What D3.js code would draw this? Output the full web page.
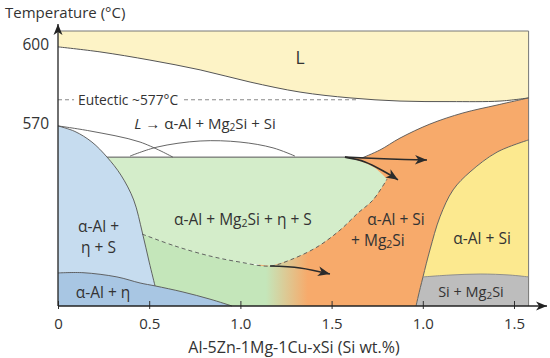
<!DOCTYPE html>
<html><head><meta charset="utf-8">
<script src="https://cdn.jsdelivr.net/npm/d3@7"></script>
<style>
body{margin:0;background:#fff}
svg{display:block}
text{font-family:"Open Sans",sans-serif;fill:#333}
</style>
</head><body>
<svg id="c" width="550" height="358"></svg>
<script>
// ---------- data (composition index u, temperature T in °C) ----------
const xTickValues = [0, 0.5, 1.0, 1.5, 2.0, 2.5];
const xTickLabels = ["0", "0.5", "1.0", "1.5", "1.0", "1.5"];
const yTickValues = [600, 570];
const eutecticT = 580;
const eutecticEnd = 1.64;
const ternaryT = 558.3;
const liquidus = [[0,600.0],[0.230,598.1],[0.504,595.0],[0.779,591.3],[1.053,586.7],[1.327,582.9],[1.601,580.7],[1.875,579.5],[2.149,579.3],[2.423,579.5],[2.58,580.7]];
const solidus = [[0,570.1],[0.175,568.2],[0.450,564.0],[0.630,558.3]];
const arcLine = [[0.395,558.7],[0.543,562.1],[0.779,564.4],[0.998,564.0],[1.179,561.8],[1.299,558.7]];
const blueBoundary = [[0,570.1],[0.093,568.0],[0.186,564.0],[0.269,558.3],[0.345,551.5],[0.415,542.1],[0.463,529.6],[0.500,518.6],[0.532,509.6]];
const darkBlueTop = [[0,514.5],[0.137,514.6],[0.323,513.0],[0.450,510.7],[0.532,509.6],[0.685,507.3],[0.833,504.6],[0.954,502]];
const dashedLeft = [[0.461,529.2],[0.641,524.7],[0.833,520.9],[0.998,518.6],[1.162,517.1]];
const dashedRight = [[1.162,517.1],[1.272,519.4],[1.420,524.3],[1.546,530.7],[1.645,537.2],[1.727,542.1],[1.804,550.0]];
const greenTopCurve = [[1.573,558.3],[1.617,557.6],[1.683,556.1],[1.738,554.2],[1.804,550.0]];
const orangeTop = [[1.667,558.0],[1.765,561.0],[1.875,565.5],[2.039,570.8],[2.220,575.0],[2.407,578.0],[2.58,580.7]];
const yellowBoundary = [[2.58,564.8],[2.407,560.2],[2.259,552.7],[2.166,545.9],[2.094,535.7],[2.039,523.2],[2.001,513.0],[1.974,505.4],[1.963,502]];
const grayTop = [[2.001,513.0],[2.149,513.7],[2.314,514.1],[2.478,513.7],[2.58,513.0]];
const arrow1 = [[1.573,558.3],[1.820,557.6],[2.023,557.2]];
const arrow2 = [[1.573,558.3],[1.683,556.5],[1.793,552.7],[1.864,549.7]];
const arrow3 = [[1.162,517.1],[1.327,516.4],[1.491,514.1]];

// region labels
const labels = [
  {u:1.327, T:596.2, size:17.5, lines:[[{t:"L"}]]},
  {u:0.222, T:528.3, size:15.5, lines:[[{t:"α-Al +"}],[{t:"η + S"}]]},
  {u:0.247, T:507.3, size:15.5, lines:[[{t:"α-Al + η"}]]},
  {u:1.014, T:534.9, size:15.5, lines:[[{t:"α-Al + Mg"},{t:"2",sub:true},{t:"Si + η + S"}]]},
  {u:1.80, T:531.1, size:15.5, lines:[[{t:"α-Al + Si"}],[{t:"+ Mg"},{t:"2",sub:true},{t:"Si"}]], anchors:[1.853,1.754]},
  {u:2.325, T:527.7, size:15.5, lines:[[{t:"α-Al + Si"}]]},
  {u:2.264, T:507.7, size:14.5, lines:[[{t:"Si + Mg"},{t:"2",sub:true},{t:"Si"}]]},
  {u:0.806, T:571.2, size:15, lines:[[{t:"L",it:true},{t:" → α-Al + Mg"},{t:"2",sub:true},{t:"Si + Si"}]]}
];

// ---------- scales ----------
const svg = d3.select("#c");
const x = d3.scaleLinear().domain([0, 2.58]).range([58, 528.6]);
const y = d3.scaleLinear().domain([502, 606]).range([306, 31]);
const X0 = x.domain()[0], X1 = x.domain()[1], Y0 = y.domain()[0], Y1 = y.domain()[1];

const curve = d3.line().x(d => x(d[0])).y(d => y(d[1])).curve(d3.curveCatmullRom.alpha(0.5));
const straight = d3.line().x(d => x(d[0])).y(d => y(d[1]));
function region(segs){
  let s = "";
  segs.forEach((seg, i) => {
    const gen = seg.c ? curve : straight;
    let p = gen(seg.p);
    if (i > 0) p = "L" + p.slice(1);
    s += p;
  });
  return s + "Z";
}
const rev = a => a.slice().reverse();

// defs
const defs = svg.append("defs");
const grad = defs.append("linearGradient").attr("id","fade").attr("gradientUnits","userSpaceOnUse")
  .attr("x1", x(1.14)).attr("x2", x(1.37)).attr("y1",0).attr("y2",0);
grad.append("stop").attr("offset",0).attr("stop-color","#c4e6ba").attr("stop-opacity",1);
grad.append("stop").attr("offset",1).attr("stop-color","#c4e6ba").attr("stop-opacity",0);
function marker(id, color, len, half){
  defs.append("marker").attr("id", id).attr("markerUnits","userSpaceOnUse")
    .attr("viewBox", `${-len-1} ${-half-1} ${len+2} ${2*half+2}`)
    .attr("markerWidth", len+2).attr("markerHeight", 2*half+2)
    .attr("refX", 0).attr("refY", 0).attr("orient","auto")
    .append("path").attr("d", `M0,0L${-len},${-half}L${-len*0.72},0L${-len},${half}Z`).attr("fill", color);
}
marker("ah", "#2b2b2b", 12, 4.8);
marker("ax", "#222", 11, 4.5);

// ---------- regions ----------
const g = svg.append("g");
g.append("path").attr("fill","#fdf3c6")
  .attr("d", region([{p:[[X0,Y1],[X1,Y1],[X1,liquidus[liquidus.length-1][1]]]},{p:rev(liquidus),c:true}]));
g.append("path").attr("fill","#f7aa6b")
  .attr("d", region([{p:orangeTop,c:true},{p:[[X1,yellowBoundary[0][1]]]},{p:yellowBoundary,c:true},{p:[[1.1,Y0],[1.1,545],[1.6,ternaryT]]}]));
g.append("path").attr("fill","#fce98f")
  .attr("d", region([{p:yellowBoundary,c:true},{p:[[X1,Y0]]}]));
g.append("path").attr("fill","#bdbdbd")
  .attr("d", region([{p:grayTop,c:true},{p:[[X1,Y0],[1.963,Y0],[1.974,505.4]]}]));
g.append("path").attr("fill","#d4edca")
  .attr("d", region([{p:[[0.2,ternaryT],[1.573,ternaryT]]},{p:greenTopCurve,c:true},{p:rev(dashedRight),c:true},{p:rev(dashedLeft),c:true},{p:[[0.2,529]]}]));
g.append("path").attr("fill","url(#fade)")
  .attr("d", region([{p:[[0.3,528.5]]},{p:dashedLeft.concat(dashedRight.slice(1,3)),c:true},{p:[[1.42,Y0],[0.3,Y0]]}]));
g.append("path").attr("fill","#c6dcef")
  .attr("d", region([{p:blueBoundary,c:true},{p:[[0.54,Y0],[X0,Y0]]}]));
g.append("path").attr("fill","#a8c6e3")
  .attr("d", region([{p:darkBlueTop,c:true},{p:[[X0,Y0]]}]));

// ---------- boundary lines ----------
const ln = svg.append("g").attr("fill","none");
ln.append("path").attr("d", straight([[X0,Y1],[X1,Y1],[X1,Y0]])).attr("stroke","#777").attr("stroke-width",1);
ln.append("path").attr("d", curve(liquidus)).attr("stroke","#555").attr("stroke-width",1);
ln.append("path").attr("d", curve(solidus)).attr("stroke","#555").attr("stroke-width",0.9);
ln.append("path").attr("d", curve(arcLine)).attr("stroke","#555").attr("stroke-width",0.9);
ln.append("path").attr("d", curve(blueBoundary)).attr("stroke","#555").attr("stroke-width",0.9);
ln.append("path").attr("d", curve(darkBlueTop)).attr("stroke","#555").attr("stroke-width",0.9);
ln.append("path").attr("d", straight([[0.269,ternaryT],[1.573,ternaryT]])).attr("stroke","#555").attr("stroke-width",1);
ln.append("path").attr("d", curve(orangeTop)).attr("stroke","#555").attr("stroke-width",0.9);
ln.append("path").attr("d", curve(yellowBoundary)).attr("stroke","#555").attr("stroke-width",0.9);
ln.append("path").attr("d", curve(grayTop)).attr("stroke","#888").attr("stroke-width",0.9);
ln.append("path").attr("d", curve(dashedLeft.concat(dashedRight.slice(1)))).attr("stroke","#555")
  .attr("stroke-width",0.9).attr("stroke-dasharray","4,3");
ln.append("path").attr("d", straight([[X0,eutecticT],[eutecticEnd,eutecticT]])).attr("stroke","#888")
  .attr("stroke-width",1).attr("stroke-dasharray","4,3");
[arrow1, arrow2, arrow3].forEach(a => {
  ln.append("path").attr("d", curve(a)).attr("stroke","#2b2b2b").attr("stroke-width",1.6).attr("marker-end","url(#ah)");
});

// ---------- axes ----------
const xAxis = svg.append("g").attr("transform",`translate(0,${y(Y0)})`)
  .call(d3.axisBottom(x).tickValues(xTickValues).tickFormat((d,i) => xTickLabels[i]).tickSize(3));
xAxis.select(".domain").remove();
xAxis.selectAll(".tick line").attr("y1",-5).attr("y2",3).attr("stroke","#333");
xAxis.selectAll(".tick text").attr("y",12).attr("font-size",15).attr("font-family","Open Sans").attr("fill","#333");
const yAxis = svg.append("g").attr("transform",`translate(${x(X0)},0)`)
  .call(d3.axisLeft(y).tickValues(yTickValues).tickSize(0));
yAxis.select(".domain").remove();
yAxis.selectAll(".tick text").attr("x",-9).attr("dy","0.15em").attr("font-size",15.5).attr("font-family","Open Sans").attr("fill","#333");

svg.append("line").attr("x1",x(X0)).attr("x2",547).attr("y1",y(Y0)).attr("y2",y(Y0))
  .attr("stroke","#222").attr("stroke-width",1.3).attr("marker-end","url(#ax)");
svg.append("line").attr("x1",x(X0)).attr("x2",x(X0)).attr("y1",y(Y0)).attr("y2",24)
  .attr("stroke","#222").attr("stroke-width",1.3).attr("marker-end","url(#ax)");

svg.append("text").attr("x",5).attr("y",12).attr("dominant-baseline","central").attr("font-size",15)
  .text("Temperature (°C)");
svg.append("text").attr("x",294).attr("y",347).attr("text-anchor","middle").attr("dominant-baseline","central")
  .attr("font-size",16).text("Al-5Zn-1Mg-1Cu-xSi (Si wt.%)");

// eutectic label with white background
const eut = svg.append("text").attr("x", x(0.11)).attr("y", y(eutecticT)).attr("dominant-baseline","central")
  .attr("font-size",13.8).attr("fill","#444").text("Eutectic ~577°C");
const bb = eut.node().getBBox();
svg.insert("rect", () => eut.node()).attr("x", bb.x-4).attr("y", bb.y).attr("width", bb.width+8).attr("height", bb.height).attr("fill","#fff");

// ---------- region labels ----------
function rich(txt, parts, size){
  let prevSub = false;
  parts.forEach(p => {
    const ts = txt.append("tspan").text(p.t);
    if (p.sub) ts.attr("font-size", size*0.68).attr("dy", size*0.28);
    else if (prevSub) ts.attr("dy", -size*0.28);
    if (p.it) ts.attr("font-style","italic");
    prevSub = !!p.sub;
  });
}
labels.forEach(L => {
  const n = L.lines.length;
  L.lines.forEach((line, i) => {
    const cu = L.anchors ? L.anchors[i] : L.u;
    const yy = y(L.T) + (i - (n-1)/2) * L.size * 1.35;
    const t = svg.append("text").attr("x", x(cu)).attr("y", yy).attr("text-anchor","middle")
      .attr("dominant-baseline","central").attr("font-size", L.size);
    rich(t, line, L.size);
  });
});
</script>
</body></html>
